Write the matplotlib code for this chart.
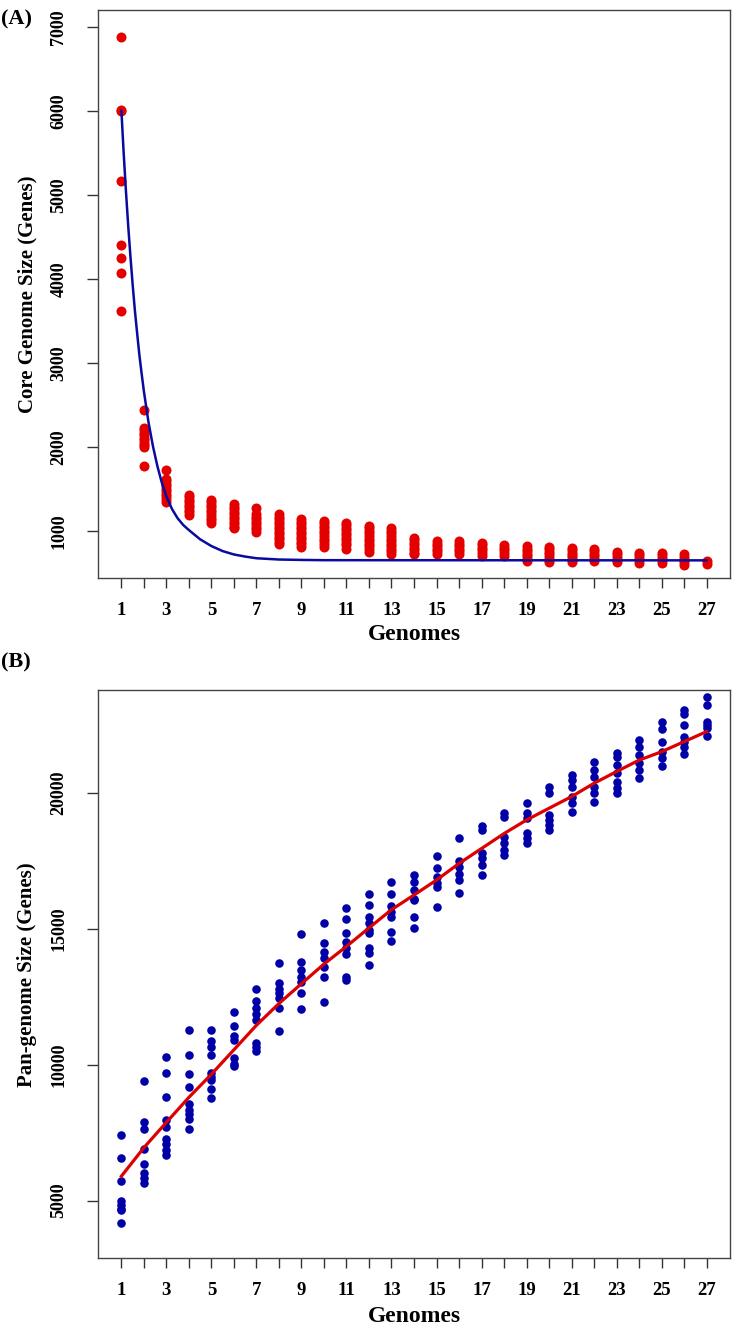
import numpy as np
import matplotlib
matplotlib.use('Agg')
import matplotlib.pyplot as plt

plt.rcParams['font.family'] = ['Liberation Serif', 'DejaVu Serif']
plt.rcParams['font.weight'] = 'bold'

genomes = list(range(1, 28))

# core genome size per number of genomes (one list per column)
core_values = [
    [6880, 6010, 6000, 5160, 4400, 4250, 4070, 3620],
    [2440, 2230, 2200, 2170, 2140, 2110, 2080, 2050, 2020, 2000, 1770],
    [1730, 1620, 1590, 1560, 1530, 1500, 1470, 1440, 1410, 1380, 1350],
    [1430, 1400, 1370, 1340, 1310, 1280, 1250, 1220, 1190],
    [1370, 1340, 1310, 1280, 1250, 1220, 1190, 1160, 1130, 1100],
    [1320, 1290, 1260, 1230, 1200, 1170, 1140, 1110, 1080, 1050, 1030],
    [1270, 1200, 1170, 1140, 1110, 1080, 1050, 1020, 990],
    [1200, 1170, 1140, 1110, 1080, 1050, 1020, 990, 960, 930, 900, 870, 840],
    [1140, 1110, 1080, 1050, 1020, 990, 960, 930, 900, 870, 840, 810],
    [1120, 1090, 1060, 1030, 1000, 970, 940, 910, 880, 850, 810],
    [1100, 1070, 1040, 1010, 980, 950, 920, 890, 860, 830, 790],
    [1060, 1030, 1000, 970, 940, 910, 880, 850, 820, 790, 750],
    [1040, 1000, 970, 940, 910, 880, 850, 820, 790, 760, 730],
    [920, 890, 860, 830, 800, 770, 740, 720],
    [880, 850, 820, 790, 760, 730],
    [880, 850, 820, 790, 760, 720],
    [860, 830, 800, 770, 740, 700],
    [830, 800, 770, 740, 700],
    [820, 790, 760, 730, 700, 670, 640],
    [810, 780, 750, 720, 690, 660, 630],
    [800, 770, 740, 710, 690, 660, 630],
    [790, 760, 730, 700, 670, 640],
    [750, 720, 690, 660, 630],
    [740, 710, 680, 650, 620],
    [740, 710, 680, 650, 620],
    [720, 690, 660, 630, 600],
    [640, 610],
]

# fitted core curve
core_fit_x = [1, 1.1, 1.2, 1.3, 1.4, 1.5, 1.6, 1.7, 1.8, 1.9, 2, 2.2, 2.4, 2.6, 2.8, 3,
              3.25, 3.5, 3.75, 4, 4.5, 5, 5.5, 6, 6.5, 7, 8, 9, 10, 27]
core_fit_y = [6000, 5500, 5050, 4640, 4270, 3930, 3620, 3350, 3090, 2870, 2660, 2300,
              2010, 1770, 1570, 1410, 1260, 1150, 1070, 1010, 900, 820, 760, 720, 695,
              675, 660, 655, 652, 650]

# pan-genome size per number of genomes
pan_values = [
    [7430, 6570, 5710, 4980, 4830, 4700, 4640, 4180],
    [9400, 7900, 7650, 6910, 6330, 6000, 5850, 5630],
    [10280, 9700, 8810, 7960, 7710, 7280, 7100, 6880, 6670],
    [11270, 10350, 9640, 9180, 8570, 8320, 8200, 8020, 7650],
    [11270, 10870, 10650, 10350, 9700, 9550, 9430, 9090, 8790],
    [11920, 11420, 11050, 10900, 10230, 10040, 9950],
    [12800, 12340, 12090, 11880, 11640, 10800, 10650, 10510],
    [13750, 12990, 12800, 12620, 12440, 12070, 11230],
    [14800, 13760, 13480, 13230, 13050, 12640, 12040],
    [15200, 14480, 14150, 13910, 13600, 13230, 12310],
    [15770, 15340, 14830, 14520, 14280, 14070, 13230, 13110],
    [16270, 15890, 15440, 15200, 14950, 14830, 14280, 14110, 13660],
    [16730, 16270, 15830, 15620, 15420, 14890, 14540],
    [16970, 16730, 16420, 16110, 16050, 15420, 15030],
    [17680, 17240, 16910, 16700, 16540, 15810],
    [18320, 17500, 17280, 17030, 16790, 16300],
    [18780, 18630, 17770, 17590, 17340, 16970],
    [19270, 19120, 18380, 18140, 17890, 17710],
    [19610, 19240, 19060, 18510, 18320, 18140],
    [20220, 19980, 19180, 19000, 18810, 18630],
    [20650, 20470, 20220, 19860, 19610, 19300],
    [21140, 20840, 20590, 20220, 19980, 19670],
    [21470, 21330, 21020, 20710, 20410, 20160, 19980],
    [21940, 21700, 21390, 21090, 20840, 20530],
    [22620, 22340, 21880, 21510, 21270, 20980],
    [23050, 22900, 22490, 22060, 21880, 21700, 21430],
    [23540, 23230, 22620, 22490, 22370, 22090],
]

# fitted pan curve
pan_fit_y = [5900, 6950, 7880, 8800, 9650, 10550, 11450, 12250, 12980, 13700, 14350,
             15030, 15700, 16240, 16790, 17400, 17950, 18500, 19000, 19430, 19860,
             20350, 20780, 21200, 21510, 21880, 22250]

core_ticks = [1000, 2000, 3000, 4000, 5000, 6000, 7000]
pan_ticks = [5000, 10000, 15000, 20000]
xtick_labels = [str(g) if g % 2 == 1 else '' for g in genomes]

W, H = 733, 1329
fig = plt.figure(figsize=(W / 100, H / 100), dpi=100)


def px_axes(left, top, right, bottom):
    return fig.add_axes([left / W, 1 - bottom / H, (right - left) / W, (bottom - top) / H])


def style(ax, yticks):
    ax.set_xlim(-0.04, 28.04)
    ax.set_xticks(genomes)
    ax.set_xticklabels(xtick_labels)
    ax.set_yticks(yticks)
    ax.set_yticklabels([str(t) for t in yticks], rotation=90, va='center')
    ax.tick_params(axis='x', length=7.5, width=1, color='#333333', pad=10, labelsize=13.5)
    ax.tick_params(axis='y', length=8, width=1, color='#333333', pad=14, labelsize=13)
    for sp in ax.spines.values():
        sp.set_color('#444444')
        sp.set_linewidth(1)


ax1 = px_axes(98, 10, 730, 578)
for g, vals in zip(genomes, core_values):
    ax1.scatter([g] * len(vals), vals, s=52, color='#E50000', linewidths=0, zorder=2)
ax1.plot(core_fit_x, core_fit_y, color='#0A0AA0', lw=1.8, zorder=3)
ax1.set_ylim(440, 7200)
style(ax1, core_ticks)

ax2 = px_axes(98, 690, 730, 1258)
for g, vals in zip(genomes, pan_values):
    ax2.scatter([g] * len(vals), vals, s=38, color='#0000A6', linewidths=0, zorder=2)
ax2.plot(genomes, pan_fit_y, color='#DD0000', lw=2.3, zorder=3)
ax2.set_ylim(2890, 23780)
style(ax2, pan_ticks)

fig.text(414 / W, 1 - 635 / H, 'Genomes', ha='center', va='center', fontsize=17, fontweight='bold')
fig.text(414 / W, 1 - 1316 / H, 'Genomes', ha='center', va='center', fontsize=17, fontweight='bold')
fig.text(27 / W, 1 - 294 / H, 'Core Genome Size (Genes)', ha='center', va='center',
         rotation=90, fontsize=15, fontweight='bold')
fig.text(27 / W, 1 - 975 / H, 'Pan-genome Size (Genes)', ha='center', va='center',
         rotation=90, fontsize=15, fontweight='bold')
fig.text(1 / W, 1 - 19 / H, '(A)', ha='left', va='center', fontsize=16, fontweight='bold')
fig.text(1 / W, 1 - 662 / H, '(B)', ha='left', va='center', fontsize=16, fontweight='bold')

fig.savefig('out.png', dpi=100)
